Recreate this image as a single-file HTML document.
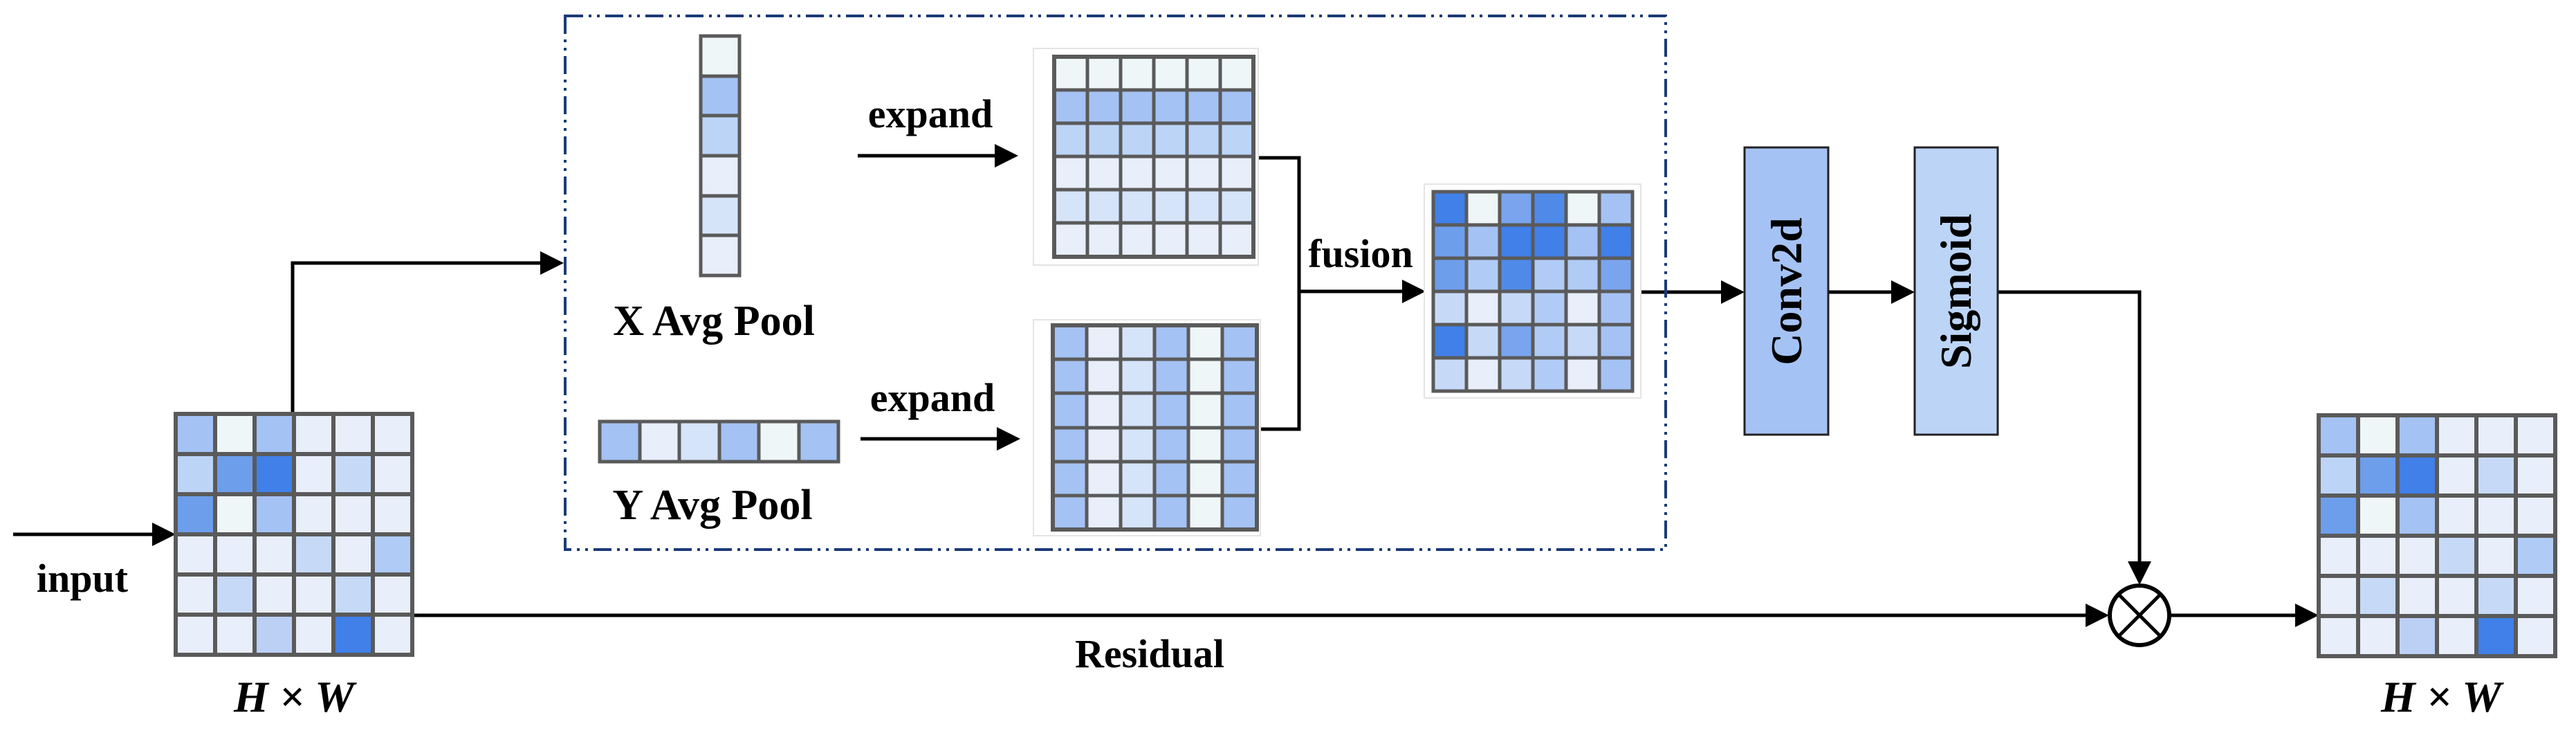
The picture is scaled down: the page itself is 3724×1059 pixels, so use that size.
<!DOCTYPE html>
<html><head><meta charset="utf-8"><style>
html,body{margin:0;padding:0;background:#fff;}
svg{display:block;}
text{font-family:"Liberation Serif",serif;font-weight:bold;fill:#000;}
</style></head><body>
<svg width="3724" height="1059" viewBox="0 0 3724 1059" xmlns="http://www.w3.org/2000/svg">
<defs>
<g id="ig" stroke="#5a5a5a" stroke-width="6">
<rect x="254" y="598" width="57" height="58" fill="#a4c2f4"/><rect x="311" y="598" width="57" height="58" fill="#eff6f7"/><rect x="368" y="598" width="57" height="58" fill="#a4c2f4"/><rect x="425" y="598" width="57" height="58" fill="#e8eefa"/><rect x="482" y="598" width="57" height="58" fill="#e8eefa"/><rect x="539" y="598" width="57" height="58" fill="#e8eefa"/>
<rect x="254" y="656" width="57" height="58" fill="#bcd4f6"/><rect x="311" y="656" width="57" height="58" fill="#6d9eeb"/><rect x="368" y="656" width="57" height="58" fill="#4080e8"/><rect x="425" y="656" width="57" height="58" fill="#e8eefa"/><rect x="482" y="656" width="57" height="58" fill="#c6daf8"/><rect x="539" y="656" width="57" height="58" fill="#e8eefa"/>
<rect x="254" y="714" width="57" height="58" fill="#6d9eeb"/><rect x="311" y="714" width="57" height="58" fill="#eff6f7"/><rect x="368" y="714" width="57" height="58" fill="#a4c2f4"/><rect x="425" y="714" width="57" height="58" fill="#e8eefa"/><rect x="482" y="714" width="57" height="58" fill="#e8eefa"/><rect x="539" y="714" width="57" height="58" fill="#e8eefa"/>
<rect x="254" y="772" width="57" height="58" fill="#e8eefa"/><rect x="311" y="772" width="57" height="58" fill="#e8eefa"/><rect x="368" y="772" width="57" height="58" fill="#e8eefa"/><rect x="425" y="772" width="57" height="58" fill="#c6daf8"/><rect x="482" y="772" width="57" height="58" fill="#e8eefa"/><rect x="539" y="772" width="57" height="58" fill="#b0cbf5"/>
<rect x="254" y="830" width="57" height="58" fill="#e8eefa"/><rect x="311" y="830" width="57" height="58" fill="#c6daf8"/><rect x="368" y="830" width="57" height="58" fill="#e8eefa"/><rect x="425" y="830" width="57" height="58" fill="#e8eefa"/><rect x="482" y="830" width="57" height="58" fill="#c6daf8"/><rect x="539" y="830" width="57" height="58" fill="#e8eefa"/>
<rect x="254" y="888" width="57" height="58" fill="#e8eefa"/><rect x="311" y="888" width="57" height="58" fill="#e8eefa"/><rect x="368" y="888" width="57" height="58" fill="#bcd0f6"/><rect x="425" y="888" width="57" height="58" fill="#e8eefa"/><rect x="482" y="888" width="57" height="58" fill="#4080e8"/><rect x="539" y="888" width="57" height="58" fill="#e8eefa"/>
</g>
</defs>

<g fill="none" stroke="#000" stroke-width="5">
<polyline points="19,772 225,772"/>
<polyline points="423,598 423,380 785,380"/>
<polyline points="598,889 3020,889"/>
<polyline points="1240,225 1440,225"/>
<polyline points="1244,634 1442,634"/>
<polyline points="1817,228 1878,228 1878,620 1817,620"/>
<polyline points="1878,421 2030,421"/>
<polyline points="2372,422 2490,422"/>
<polyline points="2643,422 2735,422"/>
<polyline points="2888,422 3093,422 3093,815"/>
<polyline points="3137,889 3320,889"/>
</g>
<g fill="#000">
<polygon points="254,772 220,755 220,789"/>
<polygon points="815,380 781,363 781,397"/>
<polygon points="3049,889 3015,872 3015,906"/>
<polygon points="1472,225 1438,208 1438,242"/>
<polygon points="1475,634 1441,617 1441,651"/>
<polygon points="2061,421 2027,404 2027,438"/>
<polygon points="2522,422 2488,405 2488,439"/>
<polygon points="2768,422 2734,405 2734,439"/>
<polygon points="3093,845 3076,811 3110,811"/>
<polygon points="3352,889 3318,872 3318,906"/>
</g>

<rect x="817" y="23" width="1591" height="771" fill="none" stroke="#1b3a78" stroke-width="4" stroke-dasharray="26 8 4 8 4 8"/>

<use href="#ig"/>
<use href="#ig" transform="translate(3098,2)"/>

<g stroke="#5a5a5a" stroke-width="5">
<rect x="1013" y="52" width="56" height="58" fill="#eff6f7"/>
<rect x="1013" y="110" width="56" height="57" fill="#a4c2f4"/>
<rect x="1013" y="167" width="56" height="58" fill="#bcd4f6"/>
<rect x="1013" y="225" width="56" height="58" fill="#e8eefa"/>
<rect x="1013" y="283" width="56" height="57" fill="#d6e4fa"/>
<rect x="1013" y="340" width="56" height="58" fill="#e8eefa"/>
</g>
<g stroke="#5a5a5a" stroke-width="5">
<rect x="867" y="609" width="58" height="58" fill="#a4c2f4"/>
<rect x="925" y="609" width="57" height="58" fill="#e8eefa"/>
<rect x="982" y="609" width="58" height="58" fill="#d6e4fa"/>
<rect x="1040" y="609" width="57" height="58" fill="#a4c2f4"/>
<rect x="1097" y="609" width="58" height="58" fill="#eff6f7"/>
<rect x="1155" y="609" width="57" height="58" fill="#a4c2f4"/>
</g>

<rect x="1494" y="70" width="325" height="313" fill="#fff" stroke="#e4e4e4" stroke-width="2"/>
<rect x="1524" y="82" width="288" height="48" fill="#eff6f7"/>
<rect x="1524" y="130" width="288" height="48" fill="#a4c2f4"/>
<rect x="1524" y="178" width="288" height="48" fill="#bcd4f6"/>
<rect x="1524" y="226" width="288" height="48" fill="#e8eefa"/>
<rect x="1524" y="274" width="288" height="48" fill="#d6e4fa"/>
<rect x="1524" y="322" width="288" height="49" fill="#e8eefa"/>
<path d="M1572 82V371M1620 82V371M1668 82V371M1716 82V371M1764 82V371M1524 130H1812M1524 178H1812M1524 226H1812M1524 274H1812M1524 322H1812" stroke="#5a5a5a" stroke-width="5" fill="none"/>
<rect x="1524" y="82" width="288" height="289" fill="none" stroke="#5a5a5a" stroke-width="6"/>

<rect x="1494" y="462" width="328" height="312" fill="#fff" stroke="#e4e4e4" stroke-width="2"/>
<rect x="1522" y="470" width="49" height="295" fill="#a4c2f4"/>
<rect x="1571" y="470" width="49" height="295" fill="#e8eefa"/>
<rect x="1620" y="470" width="49" height="295" fill="#d6e4fa"/>
<rect x="1669" y="470" width="49" height="295" fill="#a4c2f4"/>
<rect x="1718" y="470" width="49" height="295" fill="#eff6f7"/>
<rect x="1767" y="470" width="50" height="295" fill="#a4c2f4"/>
<path d="M1571 470V765M1620 470V765M1669 470V765M1718 470V765M1767 470V765M1522 519H1817M1522 568H1817M1522 618H1817M1522 667H1817M1522 716H1817" stroke="#5a5a5a" stroke-width="5" fill="none"/>
<rect x="1522" y="470" width="295" height="295" fill="none" stroke="#5a5a5a" stroke-width="6"/>

<rect x="2059" y="266" width="313" height="309" fill="#fff" stroke="#e4e4e4" stroke-width="2"/>
<g stroke="#5a5a5a" stroke-width="5">
<rect x="2072" y="277" width="48" height="48" fill="#4080e8"/><rect x="2120" y="277" width="48" height="48" fill="#eff6f7"/><rect x="2168" y="277" width="48" height="48" fill="#7aa5ee"/><rect x="2216" y="277" width="48" height="48" fill="#4f8ae8"/><rect x="2264" y="277" width="48" height="48" fill="#eff6f7"/><rect x="2312" y="277" width="48" height="48" fill="#a4c2f4"/>
<rect x="2072" y="325" width="48" height="48" fill="#6d9eeb"/><rect x="2120" y="325" width="48" height="48" fill="#a4c2f4"/><rect x="2168" y="325" width="48" height="48" fill="#4080e8"/><rect x="2216" y="325" width="48" height="48" fill="#4080e8"/><rect x="2264" y="325" width="48" height="48" fill="#a4c2f4"/><rect x="2312" y="325" width="48" height="48" fill="#4080e8"/>
<rect x="2072" y="373" width="48" height="48" fill="#6d9eeb"/><rect x="2120" y="373" width="48" height="48" fill="#b0cbf5"/><rect x="2168" y="373" width="48" height="48" fill="#4f8ae8"/><rect x="2216" y="373" width="48" height="48" fill="#b0cbf5"/><rect x="2264" y="373" width="48" height="48" fill="#b0cbf5"/><rect x="2312" y="373" width="48" height="48" fill="#7aa5ee"/>
<rect x="2072" y="421" width="48" height="48" fill="#c6daf8"/><rect x="2120" y="421" width="48" height="48" fill="#e8eefa"/><rect x="2168" y="421" width="48" height="48" fill="#c6daf8"/><rect x="2216" y="421" width="48" height="48" fill="#b0cbf5"/><rect x="2264" y="421" width="48" height="48" fill="#e8eefa"/><rect x="2312" y="421" width="48" height="48" fill="#a4c2f4"/>
<rect x="2072" y="469" width="48" height="48" fill="#4080e8"/><rect x="2120" y="469" width="48" height="48" fill="#c6daf8"/><rect x="2168" y="469" width="48" height="48" fill="#7aa5ee"/><rect x="2216" y="469" width="48" height="48" fill="#b0cbf5"/><rect x="2264" y="469" width="48" height="48" fill="#c6daf8"/><rect x="2312" y="469" width="48" height="48" fill="#a4c2f4"/>
<rect x="2072" y="517" width="48" height="48" fill="#c6daf8"/><rect x="2120" y="517" width="48" height="48" fill="#e8eefa"/><rect x="2168" y="517" width="48" height="48" fill="#c6daf8"/><rect x="2216" y="517" width="48" height="48" fill="#b0cbf5"/><rect x="2264" y="517" width="48" height="48" fill="#e8eefa"/><rect x="2312" y="517" width="48" height="48" fill="#a4c2f4"/>
</g>

<rect x="2522" y="213" width="121" height="415" fill="#a5c2f4" stroke="#222" stroke-width="3"/>
<rect x="2768" y="213" width="120" height="415" fill="#bcd4f6" stroke="#222" stroke-width="3"/>
<text x="0" y="0" font-size="64" text-anchor="middle" transform="translate(2604,421) rotate(-90)">Conv2d</text>
<text x="0" y="0" font-size="64" text-anchor="middle" transform="translate(2849,421) rotate(-90)">Sigmoid</text>

<circle cx="3093" cy="889" r="43" fill="#fff" stroke="#000" stroke-width="6"/>
<path d="M3063 859L3123 919M3123 859L3063 919" stroke="#000" stroke-width="5"/>

<text x="119" y="855" font-size="58" text-anchor="middle">input</text>
<text x="1345" y="184" font-size="58" text-anchor="middle">expand</text>
<text x="1348" y="594" font-size="58" text-anchor="middle">expand</text>
<text x="1032" y="484" font-size="62" text-anchor="middle">X Avg Pool</text>
<text x="1030" y="750" font-size="62" text-anchor="middle">Y Avg Pool</text>
<text x="1967" y="386" font-size="58" text-anchor="middle">fusion</text>
<text x="1662" y="964" font-size="58" text-anchor="middle">Residual</text>
<text x="425" y="1028" font-size="64" text-anchor="middle" font-style="italic">H  ×  W</text>
<text x="3529" y="1028" font-size="64" text-anchor="middle" font-style="italic">H  ×  W</text>
</svg>
</body></html>
